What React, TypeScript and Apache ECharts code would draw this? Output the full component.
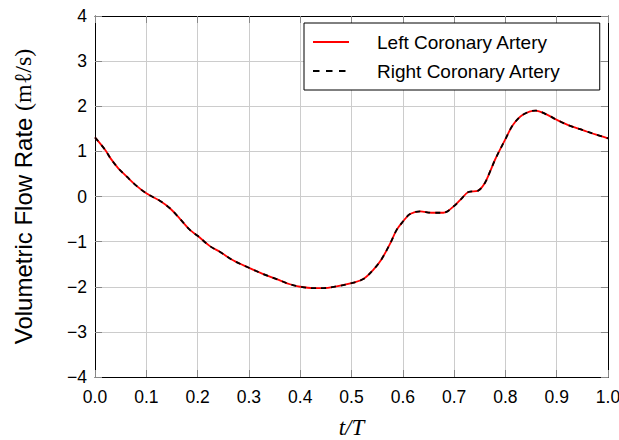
import React, { useEffect, useRef } from "react";
import * as echarts from "echarts";

const tValues = [0, 0.02, 0.03, 0.045, 0.062, 0.081, 0.1, 0.127, 0.146, 0.166, 0.185, 0.2, 0.224, 0.244, 0.27, 0.3, 0.328, 0.354, 0.38, 0.4, 0.426, 0.445, 0.471, 0.5, 0.523, 0.542, 0.558, 0.575, 0.588, 0.6, 0.614, 0.634, 0.656, 0.679, 0.7, 0.715, 0.728, 0.747, 0.76, 0.77, 0.78, 0.8, 0.815, 0.834, 0.859, 0.88, 0.9, 0.925, 0.951, 0.977, 1.0];
const leftFlow = [1.31, 1.03, 0.85, 0.63, 0.44, 0.235, 0.07, -0.1, -0.26, -0.5, -0.74, -0.87, -1.1, -1.23, -1.42, -1.58, -1.72, -1.83, -1.945, -2.0, -2.03, -2.03, -1.99, -1.92, -1.83, -1.63, -1.4, -1.05, -0.74, -0.56, -0.39, -0.33, -0.36, -0.36, -0.21, -0.04, 0.1, 0.13, 0.3, 0.55, 0.82, 1.27, 1.59, 1.81, 1.905, 1.82, 1.7, 1.57, 1.47, 1.37, 1.29];
const rightFlow = [1.31, 1.03, 0.85, 0.63, 0.44, 0.235, 0.07, -0.1, -0.26, -0.5, -0.74, -0.87, -1.1, -1.23, -1.42, -1.58, -1.72, -1.83, -1.945, -2.0, -2.03, -2.03, -1.99, -1.92, -1.83, -1.63, -1.4, -1.05, -0.74, -0.56, -0.39, -0.33, -0.36, -0.36, -0.21, -0.04, 0.1, 0.13, 0.3, 0.55, 0.82, 1.27, 1.59, 1.81, 1.905, 1.82, 1.7, 1.57, 1.47, 1.37, 1.29];
const seriesNames = ["Left Coronary Artery", "Right Coronary Artery"];
const xLabel = "t/T";
const yLabelText = "Volumetric Flow Rate ";
const yLabelUnit = "(m\u2113/s)";

const SANS = "'Liberation Sans', Arial, Helvetica, sans-serif";
const SERIF = "'Liberation Serif', 'DejaVu Serif', serif";

export default function App() {
  const ref = useRef<HTMLDivElement>(null);
  useEffect(() => {
    if (!ref.current) return;
    const chart = echarts.init(ref.current, null, { renderer: "svg" });
    const gridColor = "#cccccc";
    const tickColor = "#888888";
    const yFmt = (v: number) => (v < 0 ? "\u2212" + Math.abs(v) : String(v));
    chart.setOption({
      animation: false,
      backgroundColor: "#fff",
      grid: { left: 95, right: 11, top: 16, bottom: 63, containLabel: false, outerBoundsMode: "none" },
      legend: {
        orient: "vertical",
        left: 304,
        top: 23,
        backgroundColor: "#fff",
        borderColor: "#000",
        borderWidth: 1,
        borderRadius: 0,
        padding: [9, 39, 9, 8],
        itemWidth: 36,
        itemHeight: 14,
        itemGap: 9,
        itemStyle: { opacity: 0 },
        textStyle: { fontFamily: SANS, fontSize: 19, color: "#000", lineHeight: 20, padding: [0, 0, 0, 23] },
        data: [
          { name: seriesNames[0] },
          { name: seriesNames[1], lineStyle: { type: [6.5, 6.5], width: 1.8, color: "#000" } },
        ],
      },
      xAxis: [
        {
          type: "value",
          position: "bottom",
          min: 0,
          max: 1,
          interval: 0.1,
          axisLine: { show: true, onZero: false, lineStyle: { color: "#000", width: 1 } },
          axisTick: { show: true, inside: true, length: 7, lineStyle: { color: tickColor } },
          splitLine: { show: true, lineStyle: { color: gridColor, width: 1 } },
          axisLabel: { fontFamily: SANS, fontSize: 17.5, color: "#000", margin: 11, formatter: (v: number) => v.toFixed(1) },
          name: xLabel,
          nameLocation: "middle",
          nameGap: 39,
          nameTextStyle: { fontFamily: SERIF, fontStyle: "italic", fontSize: 23, color: "#000" },
        },
        {
          type: "value",
          position: "top",
          min: 0,
          max: 1,
          interval: 0.1,
          axisLine: { show: true, onZero: false, lineStyle: { color: "#000", width: 1 } },
          axisTick: { show: true, inside: true, length: 7, lineStyle: { color: tickColor } },
          splitLine: { show: false },
          axisLabel: { show: false },
        },
      ],
      yAxis: [
        {
          type: "value",
          position: "left",
          min: -4,
          max: 4,
          interval: 1,
          axisLine: { show: true, onZero: false, lineStyle: { color: "#000", width: 1 } },
          axisTick: { show: true, inside: true, length: 7, lineStyle: { color: tickColor } },
          splitLine: { show: true, lineStyle: { color: gridColor, width: 1 } },
          axisLabel: { fontFamily: SANS, fontSize: 17.5, color: "#000", margin: 8, formatter: yFmt },
          name: "{a|" + yLabelText + "}{b|" + yLabelUnit + "}",
          nameLocation: "middle",
          nameRotate: 90,
          nameGap: 60,
          nameTextStyle: {
            rich: {
              a: { fontFamily: SANS, fontSize: 24, color: "#000" },
              b: { fontFamily: SERIF, fontSize: 24, color: "#000" },
            },
          },
        },
        {
          type: "value",
          position: "right",
          min: -4,
          max: 4,
          interval: 1,
          axisLine: { show: true, onZero: false, lineStyle: { color: "#000", width: 1 } },
          axisTick: { show: true, inside: true, length: 7, lineStyle: { color: tickColor } },
          splitLine: { show: false },
          axisLabel: { show: false },
        },
      ],
      series: [
        {
          name: seriesNames[0],
          type: "line",
          xAxisIndex: 0,
          yAxisIndex: 0,
          symbol: "none",
          smooth: 0.35,
          lineStyle: { color: "#ff0000", width: 1.8, type: "solid" },
          itemStyle: { color: "#ff0000" },
          data: tValues.map((t, i) => [t, leftFlow[i]]),
        },
        {
          name: seriesNames[1],
          type: "line",
          xAxisIndex: 0,
          yAxisIndex: 0,
          symbol: "none",
          smooth: 0.35,
          lineStyle: { color: "#000000", width: 1.8, type: [5, 5] },
          itemStyle: { color: "#000000" },
          data: tValues.map((t, i) => [t, rightFlow[i]]),
        },
      ],
    });
    return () => chart.dispose();
  }, []);
  return <div ref={ref} style={{ position: "fixed", left: 0, top: 0, width: 619, height: 440 }} />;
}
